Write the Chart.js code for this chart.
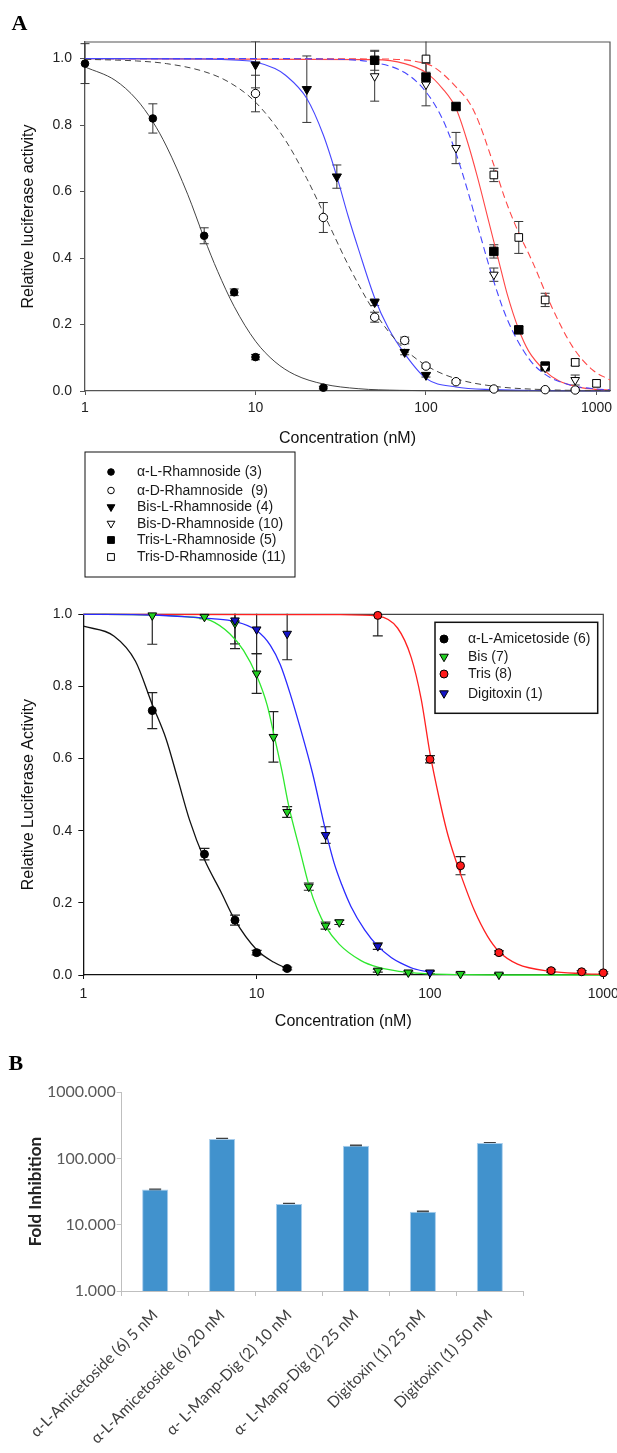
<!DOCTYPE html>
<html>
<head>
<meta charset="utf-8">
<script src="https://cdn.jsdelivr.net/npm/chart.js@4.4.1/dist/chart.umd.min.js"></script>
<style>
  body { margin: 0; background: #fff; width: 617px; height: 1453px; overflow: hidden; position: relative; }
  canvas { position: absolute; left: 0; }
</style>
</head>
<body>
<canvas id="chartA" width="617" height="590" style="top:0"></canvas>
<canvas id="chartB" width="617" height="460" style="top:590px"></canvas>
<canvas id="chartC" width="617" height="403" style="top:1050px"></canvas>
<script>
// ---- panel A (top): rhamnosides ----
const namesA = ['α-L-Rhamnoside (3)', 'α-D-Rhamnoside  (9)', 'Bis-L-Rhamnoside (4)',
                'Bis-D-Rhamnoside (10)', 'Tris-L-Rhamnoside (5)', 'Tris-D-Rhamnoside (11)'];

const lRham3Conc = [1, 2.5, 5, 7.5, 10, 25];
const lRham3Act  = [0.985, 0.82, 0.467, 0.297, 0.102, 0.01];
const lRham3Err  = [0.06, 0.044, 0.024, 0.01, 0.008, 0.004];
const lRham3FitConc = [1, 1.5, 2, 2.5, 3, 4, 5, 6, 7.5, 10, 13, 17, 25, 40, 70, 150, 400, 1200];
const lRham3FitAct  = [0.975, 0.935, 0.878, 0.81, 0.737, 0.592, 0.46, 0.36, 0.254, 0.15, 0.088, 0.049, 0.021, 0.007, 0.002, 0.0005, 0.0001, 0];

const dRham9Conc = [10, 25, 50, 75, 100, 150, 250, 500, 750];
const dRham9Act  = [0.895, 0.522, 0.222, 0.152, 0.075, 0.028, 0.006, 0.004, 0.003];
const dRham9Err  = [0.055, 0.045, 0.015, 0.01, 0.006, 0.005, 0.003, 0.003, 0.003];
const dRham9FitConc = [1, 2, 3, 5, 7, 10, 15, 20, 27, 35, 50, 70, 100, 150, 250, 500, 1200];
const dRham9FitAct  = [0.998, 0.993, 0.985, 0.961, 0.929, 0.869, 0.754, 0.639, 0.5, 0.379, 0.237, 0.141, 0.077, 0.037, 0.0144, 0.004, 0.001];

const lBis4Conc = [10, 20, 30, 50, 75, 100];
const lBis4Act  = [0.982, 0.908, 0.645, 0.267, 0.117, 0.048];
const lBis4Err  = [0.07, 0.1, 0.035, 0.01, 0.008, 0.006];
const lBis4FitConc = [1, 5, 8, 10, 13, 15, 20, 25, 30, 35, 40, 50, 60, 75, 100, 150, 250, 500, 1200];
const lBis4FitAct  = [1, 0.999, 0.995, 0.99, 0.97, 0.95, 0.88, 0.77, 0.645, 0.525, 0.43, 0.28, 0.19, 0.112, 0.038, 0.012, 0.004, 0.001, 0];

const dBis10Conc = [50, 100, 150, 250, 500, 750];
const dBis10Act  = [0.947, 0.922, 0.731, 0.35, 0.07, 0.033];
const dBis10Err  = [0.075, 0.064, 0.047, 0.02, 0.01, 0.015];
const dBis10FitConc = [1, 10, 30, 50, 75, 100, 125, 150, 175, 200, 250, 300, 400, 500, 700, 1000, 1200];
const dBis10FitAct  = [1, 1, 0.998, 0.988, 0.958, 0.9, 0.818, 0.715, 0.605, 0.5, 0.329, 0.215, 0.098, 0.05, 0.018, 0.006, 0.0035];

const lTris5Conc = [50, 100, 150, 250, 350, 500];
const lTris5Act  = [0.995, 0.944, 0.856, 0.42, 0.184, 0.075];
const lTris5Err  = [0.03, 0.015, 0.01, 0.02, 0.01, 0.01];
const lTris5FitConc = [1, 50, 75, 100, 125, 150, 175, 200, 232, 275, 300, 350, 400, 500, 600, 800, 1000, 1200];
const lTris5FitAct  = [1, 0.997, 0.985, 0.958, 0.91, 0.85, 0.75, 0.645, 0.515, 0.365, 0.29, 0.185, 0.12, 0.06, 0.031, 0.011, 0.005, 0.0027];

const dTris11Conc = [100, 250, 350, 500, 750, 1000];
const dTris11Act  = [0.999, 0.65, 0.462, 0.274, 0.086, 0.023];
const dTris11Err  = [0.06, 0.02, 0.048, 0.02, 0.01, 0.01];
const dTris11FitConc = [1, 50, 100, 150, 190, 250, 290, 340, 420, 550, 720, 940, 1200];
const dTris11FitAct  = [1, 0.999, 0.985, 0.915, 0.845, 0.68, 0.58, 0.49, 0.39, 0.25, 0.135, 0.065, 0.033];

const concTicksA = [1, 10, 100, 1000];
const actTicks = [0, 0.2, 0.4, 0.6, 0.8, 1.0];

// ---- panel A (bottom): amicetosides ----
const namesB = ['α-L-Amicetoside (6)', 'Bis (7)', 'Tris (8)', 'Digitoxin (1)'];

const ami6Conc = [2.5, 5, 7.5, 10, 15];
const ami6Act  = [0.733, 0.335, 0.152, 0.062, 0.018];
const ami6Err  = [0.05, 0.016, 0.014, 0.006, 0.004];
const ami6FitConc = [1, 1.5, 2, 2.5, 3, 3.5, 4.1, 5, 6.2, 7.5, 10, 12.5, 15];
const ami6FitAct  = [0.967, 0.94, 0.87, 0.75, 0.655, 0.545, 0.43, 0.32, 0.232, 0.152, 0.07, 0.036, 0.018];

const bis7Conc = [2.5, 5, 7.5, 10, 12.5, 15, 20, 25, 30, 50, 75, 150, 250];
const bis7Act  = [0.997, 0.993, 0.975, 0.836, 0.66, 0.452, 0.245, 0.137, 0.146, 0.012, 0.007, 0.003, 0.001];
const bis7Err  = [0.08, 0.005, 0.07, 0.055, 0.07, 0.015, 0.01, 0.01, 0.006, 0.004, 0.004, 0.003, 0.003];
const bis7FitConc = [1, 2.5, 4, 5.4, 7, 8.4, 10, 11.5, 12.6, 14, 15.3, 17.9, 20, 22.5, 25, 30, 40, 50, 75, 100, 150, 250, 1000];
const bis7FitAct  = [1, 0.998, 0.993, 0.983, 0.946, 0.9, 0.83, 0.748, 0.665, 0.565, 0.47, 0.34, 0.25, 0.18, 0.135, 0.085, 0.04, 0.022, 0.007, 0.003, 0.001, 0, 0];

const tris8Conc = [50, 100, 150, 250, 500, 750, 1000];
const tris8Act  = [0.997, 0.598, 0.303, 0.062, 0.012, 0.009, 0.006];
const tris8Err  = [0.057, 0.01, 0.025, 0.005, 0.004, 0.003, 0.003];
const tris8FitConc = [1, 30, 50, 65, 78, 89, 100, 113, 125, 135, 150, 180, 215, 250, 320, 500, 750, 1000];
const tris8FitAct  = [1, 0.999, 0.995, 0.962, 0.88, 0.765, 0.615, 0.49, 0.4, 0.345, 0.28, 0.18, 0.107, 0.065, 0.03, 0.01, 0.004, 0.002];

const digi1Conc = [7.5, 10, 15, 25, 50, 100];
const digi1Act  = [0.983, 0.958, 0.946, 0.388, 0.08, 0.007];
const digi1Err  = [0.065, 0.067, 0.072, 0.023, 0.009, 0.004];
const digi1FitConc = [1, 2.5, 4, 5.5, 7.5, 10, 12, 13.7, 15.7, 17.9, 21, 25, 28, 31, 35, 42, 50, 60, 68, 80, 100];
const digi1FitAct  = [1, 0.998, 0.993, 0.988, 0.98, 0.955, 0.914, 0.86, 0.776, 0.683, 0.56, 0.4, 0.31, 0.25, 0.19, 0.125, 0.08, 0.048, 0.033, 0.018, 0.008];

const concTicksB = [1, 10, 100, 1000];

// ---- panel B: fold inhibition ----
const barLabels = ['α-L-Amicetoside (6) 5 nM', 'α-L-Amicetoside (6) 20 nM', 'α- L-Manp-Dig (2) 10 nM',
                   'α- L-Manp-Dig (2) 25 nM', 'Digitoxin (1) 25 nM', 'Digitoxin (1) 50 nM'];
const barValues = [34, 198, 20.5, 156, 15.7, 171];
const barErrors = [0.5, 3, 0.4, 3, 0.3, 2.5];
const foldTicks = [1, 10, 100, 1000];

// ------------------------------------------------------------
const sans = '"Liberation Sans", Arial, sans-serif';
const calibriLike = 'Lato, "Open Sans", sans-serif';

function pts(xs, ys) { return xs.map((x, i) => ({ x: x, y: ys[i] })); }

function markers(label, xs, ys, errs, look) {
  return {
    label: label, data: pts(xs, ys), errors: errs,
    pointStyle: look.style, pointRotation: look.style === 'triangle' ? 180 : 0,
    pointRadius: look.r, pointBackgroundColor: look.fill, pointBorderColor: look.stroke || '#000',
    pointBorderWidth: 1, showLine: false, order: 1, clip: false
  };
}

function curve(xs, ys, color, dash, width) {
  return {
    data: pts(xs, ys), showLine: true, borderColor: color, borderWidth: width || 1.2,
    borderDash: dash || [], pointRadius: 0, pointHitRadius: 0,
    cubicInterpolationMode: 'monotone', fill: false, order: 2, clip: false
  };
}

function drawMarker(ctx, look, x, y, r) {
  ctx.beginPath();
  if (look.style === 'circle') {
    ctx.arc(x, y, r, 0, Math.PI * 2);
  } else if (look.style === 'rect') {
    const s = r * Math.SQRT1_2;
    ctx.rect(x - s, y - s, 2 * s, 2 * s);
  } else {
    ctx.moveTo(x - r * 0.866, y - r * 0.5);
    ctx.lineTo(x + r * 0.866, y - r * 0.5);
    ctx.lineTo(x, y + r);
    ctx.closePath();
  }
  ctx.fillStyle = look.fill;
  ctx.fill();
  ctx.lineWidth = 1;
  ctx.strokeStyle = look.stroke || '#000';
  ctx.stroke();
}

// error bars, drawn under the markers
function errorBars(cap, color, width) {
  return {
    id: 'errorBars',
    beforeDatasetsDraw(chart) {
      const { ctx, chartArea: a, scales: { x, y } } = chart;
      ctx.save();
      ctx.beginPath();
      ctx.rect(a.left - 10, a.top - 0.5, a.right - a.left + 20, a.bottom - a.top + 10);
      ctx.clip();
      ctx.strokeStyle = color;
      ctx.lineWidth = width;
      chart.data.datasets.forEach(ds => {
        if (!ds.errors) return;
        ds.data.forEach((p, i) => {
          const e = ds.errors[i];
          if (!e) return;
          const xv = typeof p === 'object' ? p.x : i;
          const yv = typeof p === 'object' ? p.y : p;
          const px = x.getPixelForValue(xv);
          const top = y.getPixelForValue(yv + e);
          const bot = y.getPixelForValue(Math.max(yv - e, y.min));
          ctx.beginPath();
          ctx.moveTo(px, top); ctx.lineTo(px, bot);
          ctx.moveTo(px - cap, top); ctx.lineTo(px + cap, top);
          if (yv - e > y.min) { ctx.moveTo(px - cap, bot); ctx.lineTo(px + cap, bot); }
          ctx.stroke();
        });
      });
      ctx.restore();
    }
  };
}

function frameBox(color, width) {
  return {
    id: 'frameBox',
    beforeDatasetsDraw(chart) {
      const { ctx, chartArea: a } = chart;
      ctx.save();
      ctx.strokeStyle = color;
      ctx.lineWidth = width;
      ctx.beginPath();
      ctx.moveTo(a.left, a.top); ctx.lineTo(a.right, a.top); ctx.lineTo(a.right, a.bottom);
      ctx.stroke();
      ctx.restore();
    }
  };
}

// boxed legend at a fixed place
function boxLegend(names, looks, box, rows, markerX, textX, fontSize, boxWidth) {
  return {
    id: 'boxLegend',
    afterDraw(chart) {
      const ctx = chart.ctx;
      ctx.save();
      ctx.strokeStyle = '#111';
      ctx.lineWidth = boxWidth;
      ctx.strokeRect(box[0], box[1], box[2], box[3]);
      ctx.font = fontSize + 'px ' + sans;
      ctx.textBaseline = 'middle';
      names.forEach((n, i) => {
        drawMarker(ctx, looks[i], markerX, rows[i], looks[i].lr);
        ctx.fillStyle = '#1a1a1a';
        ctx.fillText(n, textX, rows[i] + 0.5);
      });
      ctx.restore();
    }
  };
}

function panelLetter(letter, x, y) {
  return {
    id: 'panelLetter',
    afterDraw(chart) {
      const ctx = chart.ctx;
      ctx.save();
      ctx.font = 'bold 22px "Liberation Serif", "Times New Roman", serif';
      ctx.fillStyle = '#000';
      ctx.textBaseline = 'alphabetic';
      ctx.fillText(letter, x, y);
      ctx.restore();
    }
  };
}

function logAxis(min, max, ticks, title, color, padding, height) {
  return {
    type: 'logarithmic', min: min, max: max,
    afterBuildTicks: s => { s.ticks = ticks.map(v => ({ value: v })); },
    ticks: { callback: v => String(v), padding: padding, color: '#222', maxRotation: 0, autoSkip: false,
             font: { family: sans, size: 14 } },
    grid: { drawOnChartArea: false, tickLength: 4, color: color },
    border: { color: color, width: 1.3 },
    title: { display: true, text: title, color: '#111', font: { family: sans, size: 16 }, padding: { top: 0, bottom: 0 } },
    afterFit: s => { s.height = height; s.paddingLeft = 0; s.paddingRight = 0; }
  };
}

function actAxis(max, title, color, padding, width) {
  return {
    min: 0, max: max,
    afterBuildTicks: s => { s.ticks = actTicks.map(v => ({ value: v })); },
    ticks: { callback: v => v.toFixed(1), padding: padding, color: '#222', font: { family: sans, size: 14 } },
    grid: { drawOnChartArea: false, tickLength: 5, color: color },
    border: { color: color, width: 1.3 },
    title: { display: true, text: title, color: '#111', font: { family: sans, size: 16 }, padding: { top: 18.5, bottom: 0 } },
    afterFit: s => { s.width = width; s.paddingTop = 0; s.paddingBottom = 0; }
  };
}

// ---------------- chart A ----------------
const looksA = [
  { style: 'circle', fill: '#000', r: 3.8, lr: 3.3 },
  { style: 'circle', fill: '#fff', r: 4.2, lr: 3.3 },
  { style: 'triangle', fill: '#000', r: 5.3, lr: 4.5 },
  { style: 'triangle', fill: '#fff', r: 5, lr: 4.5 },
  { style: 'rect', fill: '#000', r: 6, lr: 4.8 },
  { style: 'rect', fill: '#fff', r: 5.4, lr: 4.8 }
];
const blueA = 'rgb(70,70,255)';
const redA = 'rgb(255,70,70)';

new Chart(document.getElementById('chartA'), {
  type: 'scatter',
  data: {
    datasets: [
      markers(namesA[0], lRham3Conc, lRham3Act, lRham3Err, looksA[0]),
      markers(namesA[1], dRham9Conc, dRham9Act, dRham9Err, looksA[1]),
      markers(namesA[2], lBis4Conc, lBis4Act, lBis4Err, looksA[2]),
      markers(namesA[3], dBis10Conc, dBis10Act, dBis10Err, looksA[3]),
      markers(namesA[4], lTris5Conc, lTris5Act, lTris5Err, looksA[4]),
      markers(namesA[5], dTris11Conc, dTris11Act, dTris11Err, looksA[5]),
      curve(lRham3FitConc, lRham3FitAct, '#444', null, 1),
      curve(dRham9FitConc, dRham9FitAct, '#444', [6, 4], 1),
      curve(lBis4FitConc, lBis4FitAct, blueA, null, 1.1),
      curve(dBis10FitConc, dBis10FitAct, blueA, [7, 4], 1.1),
      curve(lTris5FitConc, lTris5FitAct, redA, null, 1.1),
      curve(dTris11FitConc, dTris11FitAct, redA, [7, 4], 1.1)
    ]
  },
  options: {
    responsive: false, animation: false, events: [],
    layout: { padding: { left: 0, top: 42, right: 7, bottom: 142 } },
    plugins: { legend: { display: false }, tooltip: { enabled: false } },
    scales: {
      x: logAxis(1, 1200, concTicksA, 'Concentration (nM)', '#555', 5, 57),
      y: actAxis(1.05, 'Relative luciferase activity', '#555', 8, 85)
    }
  },
  plugins: [
    frameBox('#555', 1.2), errorBars(4.5, '#333', 1),
    boxLegend(namesA, looksA, [85, 452, 210, 125], [472, 490.5, 507, 523.5, 540, 557], 111, 137, 14, 1),
    panelLetter('A', 11.5, 30)
  ]
});

// ---------------- chart B ----------------
const looksB = [
  { style: 'circle', fill: '#000', r: 4, lr: 4 },
  { style: 'triangle', fill: '#22d022', r: 5, lr: 5 },
  { style: 'circle', fill: '#ff1a1a', r: 4, lr: 4 },
  { style: 'triangle', fill: '#1515c8', r: 5, lr: 5 }
];

new Chart(document.getElementById('chartB'), {
  type: 'scatter',
  data: {
    datasets: [
      markers(namesB[3], digi1Conc, digi1Act, digi1Err, looksB[3]),
      markers(namesB[2], tris8Conc, tris8Act, tris8Err, looksB[2]),
      markers(namesB[1], bis7Conc, bis7Act, bis7Err, looksB[1]),
      markers(namesB[0], ami6Conc, ami6Act, ami6Err, looksB[0]),
      curve(digi1FitConc, digi1FitAct, '#2a2aff', null, 1.3),
      curve(tris8FitConc, tris8FitAct, '#ff2020', null, 1.3),
      curve(bis7FitConc, bis7FitAct, '#2ee82e', null, 1.3),
      curve(ami6FitConc, ami6FitAct, '#111', null, 1.3)
    ]
  },
  options: {
    responsive: false, animation: false, events: [],
    layout: { padding: { left: 0, top: 24.3, right: 13.7, bottom: 19 } },
    plugins: { legend: { display: false }, tooltip: { enabled: false } },
    scales: {
      x: logAxis(1, 1000, concTicksB, 'Concentration (nM)', '#111', 7, 56),
      y: actAxis(1.0, 'Relative Luciferase Activity', '#111', 6, 83.3)
    }
  },
  plugins: [
    frameBox('#444', 1.2), errorBars(5, '#222', 1.2),
    boxLegend(namesB, looksB, [435, 32.3, 162.7, 91], [49, 66.7, 84, 103.3], 444, 468, 14, 1.5)
  ]
});

// ---------------- chart C (panel B) ----------------
new Chart(document.getElementById('chartC'), {
  type: 'bar',
  data: {
    labels: barLabels,
    datasets: [{
      data: barValues, errors: barErrors,
      backgroundColor: '#4192cd', borderColor: '#a7cdec', borderWidth: 1,
      categoryPercentage: 1, barPercentage: 0.39
    }]
  },
  options: {
    responsive: false, animation: false, events: [],
    layout: { padding: { left: 0, top: 42.3, right: 93.7, bottom: 0 } },
    plugins: { legend: { display: false }, tooltip: { enabled: false } },
    scales: {
      x: {
        grid: { drawOnChartArea: false, tickLength: 5, color: '#bfbfbf' },
        border: { color: '#bfbfbf', width: 1 },
        ticks: { autoSkip: false, minRotation: 45, maxRotation: 45, padding: 10, color: '#404040',
                 font: { family: calibriLike, size: 15.5 } },
        afterFit: s => { s.height = 162; s.paddingLeft = 0; s.paddingRight = 0; }
      },
      y: {
        type: 'logarithmic', min: 1, max: 1000,
        afterBuildTicks: s => { s.ticks = foldTicks.map(v => ({ value: v })); },
        ticks: { callback: v => v.toFixed(3), padding: 1, color: '#595959', font: { family: calibriLike, size: 16 } },
        grid: { drawOnChartArea: false, tickLength: 5, color: '#bfbfbf' },
        border: { color: '#bfbfbf', width: 1 },
        title: { display: true, text: 'Fold Inhibition', color: '#222',
                 font: { family: calibriLike, size: 17, weight: 'bold' }, padding: { top: 25, bottom: 0 } },
        afterFit: s => { s.width = 121.7; s.paddingTop = 0; s.paddingBottom = 0; }
      }
    }
  },
  plugins: [errorBars(6, '#404040', 1.5), panelLetter('B', 8.5, 20)]
});
</script>
</body>
</html>
